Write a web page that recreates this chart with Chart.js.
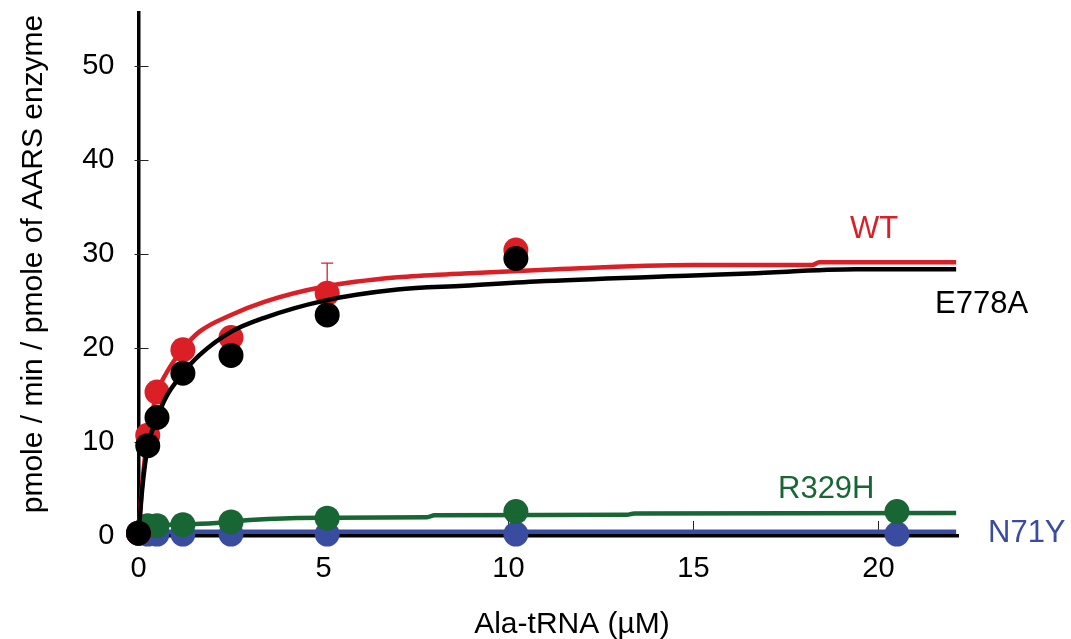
<!DOCTYPE html>
<html><head><meta charset="utf-8">
<script src="https://cdn.jsdelivr.net/npm/chart.js@4.4.1/dist/chart.umd.min.js"></script>
<style>html,body{margin:0;padding:0;background:#fff;} #wrap{width:1071px;height:639px;position:relative;}</style>
</head><body><div id="wrap"><canvas id="c" width="1071" height="639"></canvas></div>
<script>
// ---- data ----
const xTicks = [0, 5, 10, 15, 20];
const yTicks = [0, 10, 20, 30, 40, 50];
const concX = [0, 0.25, 0.5, 1.2, 2.5, 5.1, 10.2, 20.5];
const wtPts    = [0.3, 10.7, 15.3, 19.8, 21.1, 25.8, 30.4, null];
const e778aPts = [0.3, 9.6, 12.6, 17.3, 19.2, 23.5, 29.5, null];
const r329hPts = [0.3, 1.1, 1.1, 1.2, 1.5, 1.9, 2.6, 2.6];
const n71yPts  = [0.3, 0.2, 0.2, 0.2, 0.2, 0.2, 0.2, 0.2];
const wtErrUp  = [0, 0, 0, 0, 0, 3.2, 0, 0];

const wtCurveX    = [0, 0.1, 0.25, 0.5, 0.75, 1.2, 1.64, 2.5, 3.4, 5.0, 7.0, 8.8, 11.0, 15.0, 18.2, 18.4, 22.1];
const wtCurveY    = [0, 5.5, 10.6, 15.2, 17.3, 19.9, 21.7, 23.5, 24.9, 26.5, 27.5, 27.9, 28.3, 28.8, 28.8, 29.1, 29.1];
const e778aCurveX = [0, 0.1, 0.25, 0.5, 0.75, 1.2, 1.64, 2.5, 3.4, 5.0, 7.0, 8.8, 11.0, 15.0, 16.5, 19.4, 22.1];
const e778aCurveY = [0, 5.0, 9.5, 12.5, 14.8, 17.3, 19.2, 21.7, 23.2, 25.0, 26.2, 26.6, 27.1, 27.7, 27.9, 28.35, 28.35];
const r329hCurveX = [0, 0.25, 0.5, 1.2, 2.0, 2.5, 3.5, 5.0, 7.8, 8.0, 13.2, 13.4, 22.1];
const r329hCurveY = [0.3, 0.9, 1.1, 1.25, 1.35, 1.55, 1.8, 1.95, 2.0, 2.2, 2.25, 2.4, 2.45];
const n71yCurveX  = [0, 22.1];
const n71yCurveY  = [0.45, 0.45];

const seriesNames = ['WT', 'E778A', 'R329H', 'N71Y'];
const RED = '#da1f26', BLACK = '#000000', GREEN = '#176633', BLUE = '#3a4ca0';
const FONT = '"Liberation Sans", Arial, Helvetica, sans-serif';

const toXY = (xs, ys) => xs.map((x, i) => ({x: x, y: ys[i]})).filter(p => p.y !== null);

function curve(label, xs, ys, color, w, order) {
  return {type: 'line', label, data: toXY(xs, ys), borderColor: color, backgroundColor: color,
    borderWidth: w, pointRadius: 0, cubicInterpolationMode: 'monotone', fill: false, order, clip: false};
}
function pts(label, ys, color, order) {
  return {type: 'scatter', label, data: toXY(concX, ys), borderColor: color, backgroundColor: color,
    pointRadius: 12.5, pointHoverRadius: 12.5, borderWidth: 0, showLine: false, order, clip: false};
}
function noPad(s) { s.paddingTop = 0; s.paddingBottom = 0; s.paddingLeft = 0; s.paddingRight = 0; }

const decor = {
  id: 'decor',
  beforeDatasetsDraw(chart) {
    const {ctx, chartArea, scales} = chart;
    ctx.save();
    ctx.strokeStyle = '#222'; ctx.lineWidth = 1;
    yTicks.forEach(v => {
      const y = Math.round(scales.y.getPixelForValue(v)) + 0.5;
      ctx.beginPath(); ctx.moveTo(chartArea.left - 4, y); ctx.lineTo(chartArea.left + 10, y); ctx.stroke();
    });
    xTicks.forEach(v => {
      if (v === 0) return;
      const x = Math.round(scales.x.getPixelForValue(v)) + 0.5;
      ctx.beginPath(); ctx.moveTo(x, chartArea.bottom - 3); ctx.lineTo(x, chartArea.bottom - 15); ctx.stroke();
    });
    // error bar (upper) on WT
    ctx.strokeStyle = RED; ctx.lineWidth = 1.3;
    concX.forEach((xv, i) => {
      if (!wtErrUp[i] || wtPts[i] === null) return;
      const x = scales.x.getPixelForValue(xv);
      const y0 = scales.y.getPixelForValue(wtPts[i]);
      const y1 = scales.y.getPixelForValue(wtPts[i] + wtErrUp[i]);
      ctx.beginPath(); ctx.moveTo(x, y0); ctx.lineTo(x, y1);
      ctx.moveTo(x - 6, y1); ctx.lineTo(x + 6, y1); ctx.stroke();
    });
    ctx.restore();
  },
  afterDraw(chart) {
    const {ctx} = chart;
    ctx.save();
    ctx.textBaseline = 'alphabetic'; ctx.textAlign = 'left';
    ctx.font = '31px ' + FONT;
    ctx.fillStyle = RED;   ctx.fillText(seriesNames[0], 850, 238);
    ctx.fillStyle = BLACK; ctx.fillText(seriesNames[1], 935, 313);
    ctx.fillStyle = GREEN; ctx.fillText(seriesNames[2], 778, 498);
    ctx.fillStyle = BLUE;  ctx.fillText(seriesNames[3], 988, 542);
    // axis titles
    ctx.fillStyle = '#000';
    ctx.font = '30px ' + FONT;
    ctx.textAlign = 'center';
    ctx.fillText('Ala-tRNA (\u00B5M)', 572, 633);
    ctx.translate(42, 264);
    ctx.rotate(-Math.PI / 2);
    ctx.fillText('pmole / min / pmole of AARS enzyme', 0, 0);
    ctx.restore();
  }
};

new Chart(document.getElementById('c'), {
  data: {
    datasets: [
      curve('E778A fit', e778aCurveX, e778aCurveY, BLACK, 4.5, 1),
      pts('E778A', e778aPts, BLACK, 2),
      curve('WT fit', wtCurveX, wtCurveY, RED, 4.5, 3),
      pts('WT', wtPts, RED, 4),
      curve('R329H fit', r329hCurveX, r329hCurveY, GREEN, 4.5, 5),
      pts('R329H', r329hPts, GREEN, 6),
      curve('N71Y fit', n71yCurveX, n71yCurveY, BLUE, 4.5, 7),
      pts('N71Y', n71yPts, BLUE, 8)
    ]
  },
  options: {
    responsive: false, animation: false,
    layout: {padding: {left: 0, top: 13, right: 113, bottom: 0}},
    plugins: {legend: {display: false}, tooltip: {enabled: false}},
    scales: {
      x: {
        type: 'linear', min: 0, max: 22.15,
        afterBuildTicks: s => { s.ticks = xTicks.map(v => ({value: v})); },
        afterFit: s => { s.height = 103; noPad(s); },
        grid: {display: false, drawTicks: false},
        border: {display: true, color: '#000', width: 3.5},
        ticks: {color: '#000', font: {family: FONT, size: 29}, padding: 16, maxRotation: 0}
      },
      y: {
        type: 'linear', min: 0, max: 55.6,
        afterBuildTicks: s => { s.ticks = yTicks.map(v => ({value: v})); },
        afterFit: s => { s.width = 138.5; noPad(s); },
        grid: {display: false, drawTicks: false},
        border: {display: true, color: '#000', width: 3.5},
        ticks: {color: '#000', font: {family: FONT, size: 29}, padding: 24}
      }
    }
  },
  plugins: [decor]
});
</script></body></html>
